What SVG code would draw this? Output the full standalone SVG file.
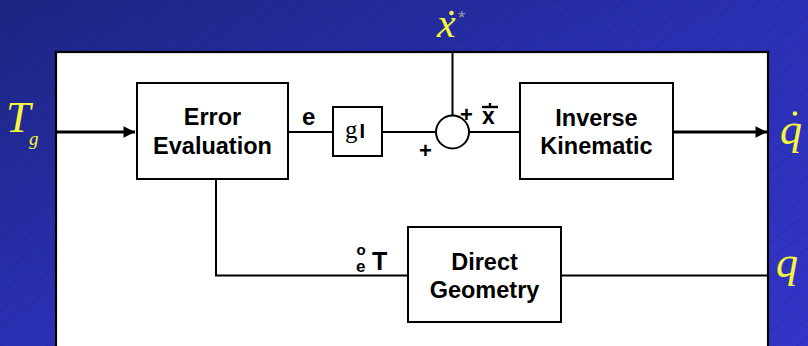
<svg xmlns="http://www.w3.org/2000/svg" width="808" height="346" viewBox="0 0 808 346">
<defs>
<linearGradient id="bg" x1="0" y1="0" x2="1" y2="1">
<stop offset="0" stop-color="#1c2580"/>
<stop offset="0.5" stop-color="#2a30b4"/>
<stop offset="1" stop-color="#3434c8"/>
</linearGradient>
<pattern id="hatch" width="14" height="14" patternUnits="userSpaceOnUse" patternTransform="rotate(-38)">
<line x1="0" y1="7" x2="14" y2="7" stroke="#141a60" stroke-width="0.8" stroke-dasharray="1.5 1.5" opacity="0.6"/>
</pattern>
<marker id="arr" viewBox="0 0 10 10" refX="10" refY="5" markerWidth="4.2" markerHeight="3.6" markerUnits="strokeWidth" orient="auto">
<path d="M0,0 L10,5 L0,10 Z" fill="#000"/>
</marker>
</defs>
<style>
.box{fill:#fff;stroke:#000;stroke-width:2}
.ln{fill:none;stroke:#000;stroke-width:2}
.thick{fill:none;stroke:#000;stroke-width:3.2}
.lbl{font-family:"Liberation Sans",Arial,sans-serif;font-weight:bold;font-size:23.5px;fill:#000;text-anchor:middle}
.math{font-family:"Liberation Serif","Times New Roman",serif;font-style:italic;fill:#f6f63c}
.sm{font-family:"Liberation Sans",Arial,sans-serif;font-weight:bold;fill:#000}
</style>
<rect x="0" y="0" width="808" height="346" fill="url(#bg)"/>
<rect x="0" y="0" width="808" height="346" fill="url(#hatch)"/>
<rect x="56" y="52" width="712" height="310" fill="#fff" stroke="#000" stroke-width="2.2"/>

<g id="connectors">
<line class="thick" x1="57" y1="132" x2="135" y2="132" marker-end="url(#arr)"/>
<line class="ln" x1="288" y1="132" x2="333" y2="132"/>
<line class="ln" x1="382" y1="132" x2="436" y2="132"/>
<line class="ln" x1="469" y1="132" x2="520" y2="132"/>
<line class="ln" x1="452.5" y1="52" x2="452.5" y2="116"/>
<line class="thick" x1="673" y1="132" x2="767" y2="132" marker-end="url(#arr)"/>
<polyline class="ln" points="216,179 216,275.5 408,275.5"/>
<line class="ln" x1="561" y1="275.5" x2="768" y2="275.5"/>
<text class="sm" x="302" y="125" font-size="24">e</text>
<text class="sm" x="460" y="122" font-size="22">+</text>
<text class="sm" x="419" y="158" font-size="22">+</text>
<text class="sm" x="482" y="124" font-size="23">x</text>
<line x1="482" y1="107" x2="498" y2="107" stroke="#000" stroke-width="2.4"/>
<line x1="490" y1="103" x2="490" y2="107" stroke="#000" stroke-width="2.4"/>
<text class="sm" x="356.5" y="255" font-size="15">o</text>
<text class="sm" x="356" y="272" font-size="17">e</text>
<text class="sm" x="372" y="270" font-size="25">T</text>
</g>

<g id="error-evaluation">
<rect class="box" x="137" y="83" width="151" height="96"/>
<text class="lbl" x="212.5" y="125">Error</text>
<text class="lbl" x="212.5" y="154">Evaluation</text>
</g>

<g id="gain">
<rect class="box" x="333" y="107" width="49" height="49"/>
<text x="345" y="138" font-family="Liberation Serif,serif" font-size="25" fill="#000">g</text>
<text class="sm" x="359.5" y="138" font-size="20">I</text>
</g>

<g id="sum">
<circle cx="452.5" cy="132" r="16.5" fill="#fff" stroke="#000" stroke-width="2"/>
</g>

<g id="inverse-kinematic">
<rect class="box" x="520" y="83" width="153" height="96"/>
<text class="lbl" x="596.5" y="126">Inverse</text>
<text class="lbl" x="596.5" y="154">Kinematic</text>
</g>

<g id="direct-geometry">
<rect class="box" x="408" y="227" width="153" height="95"/>
<text class="lbl" x="484.5" y="270">Direct</text>
<text class="lbl" x="484.5" y="298">Geometry</text>
</g>

<g id="labels">
<text class="math" x="6" y="132" font-size="44">T</text>
<text class="math" x="29" y="145" font-size="19">g</text>
<text class="math" x="437" y="37" font-size="42">x</text>
<circle cx="451.5" cy="13" r="2.3" fill="#f6f63c"/>
<text x="458" y="24" font-family="Liberation Sans,sans-serif" font-size="19" fill="#9a9a9a">*</text>
<text class="math" x="780" y="144" font-size="44">q</text>
<circle cx="795" cy="113.5" r="2.3" fill="#f6f63c"/>
<text class="math" x="776" y="277" font-size="44">q</text>
</g>
</svg>
